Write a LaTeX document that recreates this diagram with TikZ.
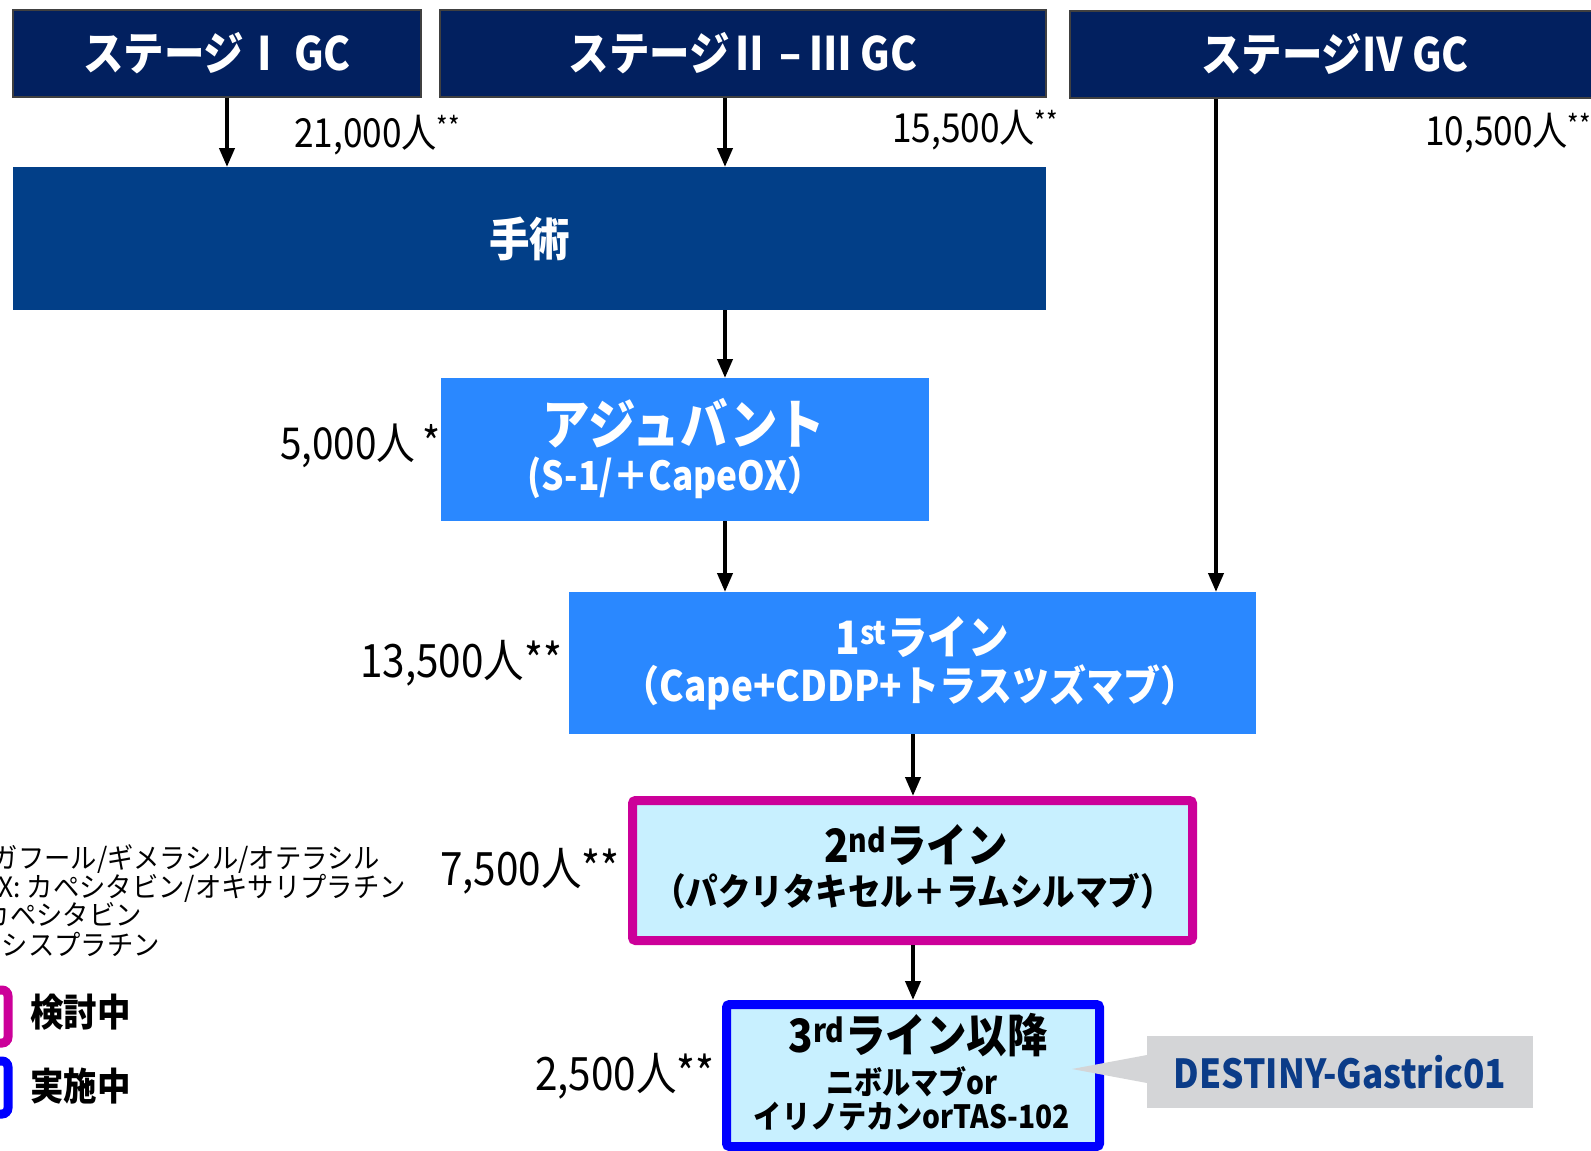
\documentclass[tikz,border=0pt]{standalone}
\usepackage{fontspec}
\setmainfont{Noto Sans CJK JP}[FakeStretch=0.88]
\newfontfamily\legfont{Noto Sans CJK JP}[FakeStretch=0.94]
\usetikzlibrary{arrows.meta}
\definecolor{navy}{HTML}{02205F}
\definecolor{surgc}{HTML}{023F88}
\definecolor{brt}{HTML}{2A88FF}
\definecolor{lcyan}{HTML}{C8F0FF}
\definecolor{mag}{HTML}{CC0099}
\definecolor{pblue}{HTML}{0000FF}
\definecolor{cgray}{HTML}{D4D5D7}
\definecolor{ctext}{HTML}{0B3C88}
\newcommand\fsz[1]{\fontsize{#1}{#1}\selectfont}
\begin{document}
\begin{tikzpicture}[x=1pt,y=-1pt,
  hdr/.style={draw=black!75, line width=1.2pt, fill=navy, inner sep=0pt,
    minimum height=87pt, text=white, font=\fsz{46}\bfseries},
  blk/.style={inner sep=0pt, outer sep=0pt},
  lbl/.style={inner sep=0pt, anchor=base, font=\bfseries},
  cnt/.style={inner sep=0pt, anchor=base west},
  leg/.style={inner sep=0pt, anchor=base east, font=\legfont\fsz{28}},
  arr/.style={line width=4pt, -{Triangle[length=19pt,width=15pt]}}]
\useasboundingbox (0,0) rectangle (1591,1151);
\fill[white] (0,0) rectangle (1591,1151);

% headers
\node[hdr, minimum width=408pt] (s1) at (217,53.5) {ステージⅠ GC};
\node[hdr, minimum width=606pt] (s23) at (743,53.5) {ステージⅡ – Ⅲ GC};
\node[hdr, minimum width=530pt] (s4) at (1335,54.5) {ステージⅣ GC};

% surgery
\node[blk, fill=surgc, minimum width=1033pt, minimum height=143pt,
  text=white, font=\fsz{46}\bfseries] (surg) at (529.5,238.5) {手術};

% adjuvant
\node[blk, fill=brt, minimum width=488pt, minimum height=143pt] (adj) at (685,449.5) {};
\node[lbl, text=white, font=\fsz{54}\bfseries] (adjT1) at (684,444) {アジュバント};
\node[lbl, text=white, font=\fsz{40}\bfseries] (adjT2) at (675,490) {(S-1/＋CapeOX）};

% 1st line
\node[blk, fill=brt, minimum width=687pt, minimum height=142pt] (first) at (912.5,663) {};
\node[lbl, text=white, font=\fsz{46}\bfseries] (firstT1) at (922,654) {1\textsuperscript{st}ライン};
\node[lbl, text=white, font=\fsz{42}\bfseries] (firstT2) at (910,701) {（Cape+CDDP+トラスツズマブ）};

% 2nd line
\node[blk, draw=mag, line width=9pt, fill=lcyan, rounded corners=3pt,
  minimum width=560pt, minimum height=140pt, outer sep=4.5pt] (second) at (912.5,870.5) {};
\node[lbl, font=\fsz{46}\bfseries] (secondT1) at (916,862) {2\textsuperscript{nd}ライン};
\node[lbl, font=\fsz{37}\bfseries] (secondT2) at (913,905) {（パクリタキセル＋ラムシルマブ）};

% 3rd line
\node[blk, draw=pblue, line width=9pt, fill=lcyan, rounded corners=3pt,
  minimum width=373pt, minimum height=142pt, outer sep=4.5pt] (third) at (913,1075.5) {};
\node[lbl, font=\fsz{46}\bfseries] (thirdT1) at (918,1052) {3\textsuperscript{rd}ライン以降};
\node[lbl, font=\fsz{32}\bfseries] (thirdT2) at (912,1094) {ニボルマブor};
\node[lbl, font=\fsz{32}\bfseries] (thirdT3) at (912,1128) {イリノテカンorTAS-102};

% callout
\coordinate (tip) at (1072,1069);
\node[blk, fill=cgray, minimum width=386pt, minimum height=72pt,
  text=ctext, font=\fsz{40}\bfseries] (call) at (1340,1072) {DESTINY-Gastric01};
\fill[cgray] (call.west |- 0,1055) -- (tip) -- (call.west |- 0,1083) -- cycle;

% arrow columns
\coordinate (xA) at (227,0);
\coordinate (xB) at (725,0);
\coordinate (xC) at (1216,0);
\coordinate (xD) at (913,0);
\draw[arr] (s1.south -| xA) -- (surg.north -| xA);
\draw[arr] (s23.south -| xB) -- (surg.north -| xB);
\draw[arr] (surg.south -| xB) -- (adj.north -| xB);
\draw[arr] (adj.south -| xB) -- (first.north -| xB);
\draw[arr] (s4.south -| xC) -- (first.north -| xC);
\draw[arr] (first.south -| xD) -- (second.north -| xD);
\draw[arr] (second.south -| xD) -- (third.north -| xD);

% counts
\node[cnt, font=\fsz{40}] (n1) at (294,147) {21,000人\textsuperscript{**}};
\node[cnt, font=\fsz{40}] (n2) at (892,142) {15,500人\textsuperscript{**}};
\node[cnt, font=\fsz{40}] (n3) at (1425,145) {10,500人\textsuperscript{**}};
\node[cnt, font=\fsz{44}] (n4) at (280,459) {5,000人\,*};
\node[cnt, font=\fsz{46}] (n5) at (360,677) {13,500人**};
\node[cnt, font=\fsz{46}] (n6) at (440,885) {7,500人**};
\node[cnt, font=\fsz{46}] (n7) at (535,1090) {2,500人**};

% legend notes
\node[leg] (g1) at (380,868) {ガフール/ギメラシル/オテラシル};
\node[leg] (g2) at (406,897) {X: カペシタビン/オキサリプラチン};
\node[leg] (g3) at (142,925) {カペシタビン};
\node[leg] (g4) at (160,955) {シスプラチン};

% legend keys
\draw[mag, line width=9pt, rounded corners=6pt] (-40,990) rectangle (8,1043);
\draw[pblue, line width=9pt, rounded corners=6pt] (-40,1061) rectangle (8,1114);
\node[cnt, font=\fsz{38}\bfseries] (k1) at (30,1026) {検討中};
\node[cnt, font=\fsz{38}\bfseries] (k2) at (30,1100) {実施中};
\end{tikzpicture}
\end{document}
